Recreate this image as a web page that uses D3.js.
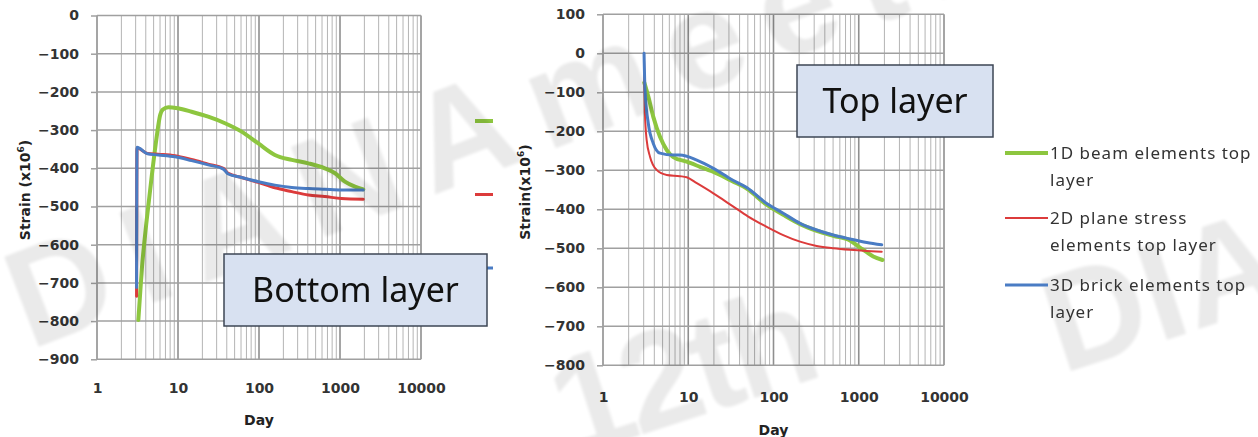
<!DOCTYPE html>
<html>
<head>
<meta charset="utf-8">
<script src="https://cdn.jsdelivr.net/npm/d3@7"></script>
<style>
  html, body { margin: 0; padding: 0; background: #fff; }
  svg { display: block; }
  .tick text { font-family: "DejaVu Sans", sans-serif; font-weight: bold; font-size: 14px; fill: #333; }
  .axis-title { font-family: "DejaVu Sans", sans-serif; font-weight: bold; font-size: 14px; fill: #222; }
  .legend text { font-family: "Noto Sans", sans-serif; font-size: 17px; fill: #333; letter-spacing: 1px; }
  .box-label { font-family: "Noto Sans", sans-serif; font-size: 34px; fill: #111; }
</style>
</head>
<body>
<svg id="chart" width="1258" height="437"></svg>
<script>
// ---- data ----
// x = day (log axis), y = strain (x10^-6)

// bottom layer (left panel)
const bottomBeamDay    = [3.24, 3.57, 4.11, 4.73, 5.46, 6.0, 6.5, 7.6, 10, 14.7, 23.6, 38, 61, 98, 157, 254, 406, 650, 870, 1150, 1530, 1940];
const bottomBeamStrain = [-797, -666, -535, -422, -317, -262, -246, -240, -243, -252, -265, -282, -304, -335, -365, -378, -387, -400, -413, -435, -448, -455];

const bottomPlaneDay    = [3.08, 3.12, 4.2, 5.7, 9.2, 14.7, 23.6, 36.3, 41.7, 61, 98, 157, 254, 406, 650, 1040, 1940];
const bottomPlaneStrain = [-735, -347, -361, -363, -367, -377, -389, -400, -413, -424, -437, -451, -461, -470, -474, -479, -481];

const bottomBrickDay    = [3.08, 3.12, 4.2, 5.7, 9.2, 14.7, 23.6, 36.3, 41.7, 61, 98, 157, 254, 406, 650, 1040, 1940];
const bottomBrickStrain = [-712, -345, -362, -365, -370, -380, -391, -402, -415, -424, -435, -444, -450, -453, -455, -457, -457];

// top layer (right panel)
const topBeamDay    = [3.05, 3.4, 3.89, 4.66, 5.6, 6.68, 9.6, 13.7, 21.6, 33, 48.5, 83, 130, 205, 321, 503, 789, 1035, 1240, 1480, 1900];
const topBeamStrain = [-75, -111, -163, -214, -248, -266, -278, -291, -308, -328, -347, -388, -414, -438, -455, -468, -480, -498, -510, -521, -530];

const topPlaneDay    = [3.03, 3.1, 3.25, 3.56, 4.26, 5.59, 8.0, 9.6, 12.6, 19.7, 25.8, 33.8, 50, 83.2, 130, 205, 321, 503, 789, 1240, 1860];
const topPlaneStrain = [-20, -150, -222, -265, -299, -312, -315, -318, -333, -359, -376, -393, -418, -445, -466, -483, -494, -500, -504, -507, -509];

const topBrickDay    = [3.03, 3.11, 3.4, 3.89, 4.66, 6.68, 8.0, 12.6, 19.7, 33, 48.5, 83.2, 130, 205, 321, 503, 789, 1240, 1860];
const topBrickStrain = [0, -94, -180, -231, -256, -261, -261, -274, -295, -325, -344, -385, -410, -436, -453, -466, -476, -485, -491];

// labels
const seriesNames = ['1D beam elements top layer', '2D plane stress elements top layer', '3D brick elements top layer'];
const legendLines = [['1D beam elements top', 'layer'], ['2D plane stress', 'elements top  layer'], ['3D brick elements top', 'layer']];
const seriesColors = ['#8dc63f', '#dc3b3b', '#4a7cc4'];
const xTickLabels = [1, 10, 100, 1000, 10000];
const bottomYTicks = [0, -100, -200, -300, -400, -500, -600, -700, -800, -900];
const topYTicks = [100, 0, -100, -200, -300, -400, -500, -600, -700, -800];

const zip = (xs, ys) => xs.map((d, i) => ({ day: d, strain: ys[i] }));

const svg = d3.select('#chart');

// 一個面板 = 一張 Excel 圖
function drawPanel(cfg) {
    const x = d3.scaleLog().domain([1, 10000]).range([cfg.left, cfg.right]);
    const y = d3.scaleLinear().domain([cfg.yTicks[cfg.yTicks.length - 1], cfg.yTicks[0]]).range([cfg.bottom, cfg.top]);
    const g = svg.append('g');

    // vertical grid (log minor + decades)
    g.append('g').selectAll('line')
        .data(x.ticks())
        .enter().append('line')
        .attr('x1', d => x(d)).attr('x2', d => x(d))
        .attr('y1', cfg.top).attr('y2', cfg.bottom)
        .style('stroke', d => Number.isInteger(Math.log10(d)) ? '#8f8f8f' : '#b4b4b4')
        .style('stroke-width', d => Number.isInteger(Math.log10(d)) ? 1.6 : 1);

    // horizontal grid
    g.append('g').selectAll('line')
        .data(cfg.yTicks)
        .enter().append('line')
        .attr('x1', cfg.left).attr('x2', cfg.right)
        .attr('y1', d => y(d)).attr('y2', d => y(d))
        .style('stroke', '#a0a0a0')
        .style('stroke-width', 1.5);

    // y axis
    const yAxis = d3.axisLeft(y).tickValues(cfg.yTicks).tickSize(6).tickPadding(12).tickFormat(d3.format('d'));
    g.append('g')
        .attr('transform', `translate(${cfg.left},0)`)
        .call(yAxis)
        .call(a => a.select('.domain').remove())
        .call(a => a.selectAll('.tick line').style('stroke', '#a0a0a0').style('stroke-width', 1.5));

    // x axis
    const xAxis = d3.axisBottom(x).tickValues(xTickLabels).tickSize(0).tickPadding(cfg.xPad).tickFormat(d3.format('d'));
    g.append('g')
        .attr('transform', `translate(0,${cfg.bottom})`)
        .call(xAxis)
        .call(a => a.select('.domain').remove());

    // axis titles
    g.append('text').attr('class', 'axis-title')
        .attr('x', (cfg.left + cfg.right) / 2).attr('y', cfg.dayY)
        .attr('text-anchor', 'middle')
        .text('Day');
    const yt = g.append('text').attr('class', 'axis-title')
        .attr('transform', `translate(${cfg.titleX},${cfg.titleY}) rotate(-90)`)
        .attr('text-anchor', 'middle');
    yt.append('tspan').text(cfg.strainLabel);
    yt.append('tspan').text('6').attr('dy', -6).style('font-size', '9px');
    yt.append('tspan').text(')').attr('dy', 6);

    // lines
    const lineGen = d3.line()
        .x(d => x(d.day))
        .y(d => y(d.strain))
        .curve(d3.curveMonotoneX);
    g.append('g').selectAll('path')
        .data(cfg.series)
        .enter().append('path')
        .attr('d', d => lineGen(d.values))
        .style('fill', 'none')
        .style('stroke', d => d.color)
        .style('stroke-width', d => d.width)
        .style('stroke-linejoin', 'round')
        .style('stroke-linecap', 'round');
}

drawPanel({
    left: 97, right: 421, top: 15.5, bottom: 359.3,
    yTicks: bottomYTicks, xPad: 24, dayY: 425,
    titleX: 30, titleY: 190, strainLabel: 'Strain (x10',
    series: [
        { name: seriesNames[0], color: seriesColors[0], width: 4, values: zip(bottomBeamDay, bottomBeamStrain) },
        { name: seriesNames[1], color: seriesColors[1], width: 3, values: zip(bottomPlaneDay, bottomPlaneStrain) },
        { name: seriesNames[2], color: seriesColors[2], width: 3, values: zip(bottomBrickDay, bottomBrickStrain) }
    ]
});

drawPanel({
    left: 603, right: 944, top: 14.3, bottom: 365.3,
    yTicks: topYTicks, xPad: 27, dayY: 435,
    titleX: 530, titleY: 192, strainLabel: 'Strain(x10',
    series: [
        { name: seriesNames[0], color: seriesColors[0], width: 4, values: zip(topBeamDay, topBeamStrain) },
        { name: seriesNames[1], color: seriesColors[1], width: 2, values: zip(topPlaneDay, topPlaneStrain) },
        { name: seriesNames[2], color: seriesColors[2], width: 3, values: zip(topBrickDay, topBrickStrain) }
    ]
});

// left panel legend (only the line keys are visible, text cut off)
svg.append('g').selectAll('line')
    .data(seriesColors)
    .enter().append('line')
    .attr('x1', 475).attr('x2', 493)
    .attr('y1', (d, i) => 121 + i * 73.5).attr('y2', (d, i) => 121 + i * 73.5)
    .style('stroke', d => d)
    .style('stroke-width', (d, i) => i === 0 ? 4 : 3);

// watermark (faint, blurred)
const defs = svg.append('defs');
defs.append('filter').attr('id', 'soft')
    .append('feGaussianBlur').attr('stdDeviation', 1.5);
const wm = svg.append('g').style('pointer-events', 'none')
    .attr('filter', 'url(#soft)')
    .style('font-family', '"Liberation Sans", sans-serif').style('font-weight', 'bold')
    .style('fill', '#000').style('opacity', 0.085);
wm.append('text').attr('transform', 'translate(30,350) rotate(-21)')
    .style('font-size', '140px').style('letter-spacing', '22px').text('DIANAmeeting');
wm.append('text').attr('transform', 'translate(570,458) rotate(-18)')
    .style('font-size', '140px').style('letter-spacing', '-6px').text('12th');
wm.append('text').attr('transform', 'translate(1062,374) rotate(-18)')
    .style('font-size', '140px').style('letter-spacing', '0px').text('DIANA');

// text boxes
const boxes = [
    { label: 'Bottom layer', x: 224, y: 254, w: 263, h: 72 },
    { label: 'Top layer', x: 797, y: 65, w: 196, h: 72 }
];
boxes.forEach(b => {
    svg.append('rect')
        .attr('x', b.x).attr('y', b.y).attr('width', b.w).attr('height', b.h)
        .style('fill', '#d8e1f1').style('stroke', '#3d4654').style('stroke-width', 1.5);
    svg.append('text').attr('class', 'box-label')
        .attr('x', b.x + b.w / 2).attr('y', b.y + b.h / 2 + 12)
        .attr('text-anchor', 'middle')
        .text(b.label);
});

// right panel legend
const legend = svg.append('g').attr('class', 'legend');
const legendY = [153, 218, 285];
legendLines.forEach((lines, i) => {
    legend.append('line')
        .attr('x1', 1005).attr('x2', 1048)
        .attr('y1', legendY[i]).attr('y2', legendY[i])
        .style('stroke', seriesColors[i])
        .style('stroke-width', [4, 2, 3][i]);
    lines.forEach((t, j) => {
        legend.append('text')
            .attr('x', 1050).attr('y', legendY[i] + 6 + j * 26.5)
            .text(t);
    });
});
</script>
</body>
</html>
